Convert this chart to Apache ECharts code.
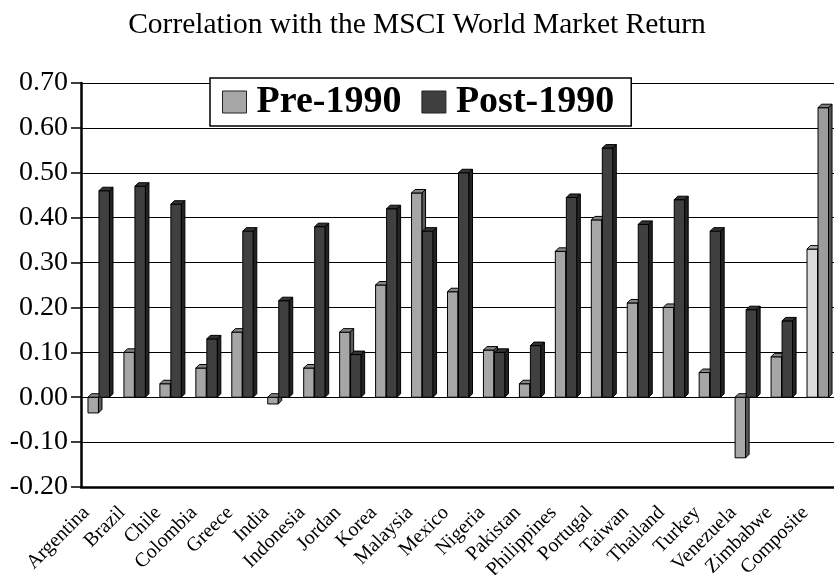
<!DOCTYPE html>
<html>
<head>
<meta charset="utf-8">
<script src="https://cdn.jsdelivr.net/npm/echarts@6/dist/echarts.min.js"></script>
<style>
  html, body { margin: 0; padding: 0; background: #fff; }
  #chart { width: 834px; height: 575px; }
</style>
</head>
<body>
<div id="chart"></div>
<script>
// correlation of each market with the MSCI world return
var countries = ['Argentina', 'Brazil', 'Chile', 'Colombia', 'Greece', 'India', 'Indonesia',
  'Jordan', 'Korea', 'Malaysia', 'Mexico', 'Nigeria', 'Pakistan', 'Philippines', 'Portugal',
  'Taiwan', 'Thailand', 'Turkey', 'Venezuela', 'Zimbabwe', 'Composite'];
var pre1990 = [-0.035, 0.10, 0.03, 0.065, 0.145, -0.015, 0.065, 0.145, 0.25, 0.455, 0.235,
  0.105, 0.03, 0.325, 0.395, 0.21, 0.20, 0.055, -0.135, 0.09, 0.33];
var post1990 = [0.46, 0.47, 0.43, 0.13, 0.37, 0.215, 0.38, 0.095, 0.42, 0.37, 0.50,
  0.10, 0.115, 0.445, 0.555, 0.385, 0.44, 0.37, 0.195, 0.17, 0.645];
var yTicks = [-0.2, 0.7, 0.1]; // min, max, step

var serif = 'Liberation Serif';
var barW = 10.5;
var depth = 3.5;

// echarts.color.lift only lightens, so darken by hand
function darken(color, k) {
  var c = echarts.color.parse(color);
  return 'rgb(' + Math.round(c[0] * k) + ',' + Math.round(c[1] * k) + ',' + Math.round(c[2] * k) + ')';
}

// draws a bar with a little 3d top and side face, like the old excel charts
function bar3d(offset) {
  return function (params, api) {
    var base = api.coord([api.value(0), 0]);
    var end = api.coord([api.value(0), api.value(1)]);
    var x = base[0] + offset;
    var yTop = Math.min(base[1], end[1]);
    var yBot = Math.max(base[1], end[1]);
    var color = api.visual('color');
    var stroke = { stroke: '#000', lineWidth: 1 };
    return {
      type: 'group',
      children: [
        {
          type: 'rect',
          shape: { x: x, y: yTop, width: barW, height: yBot - yTop },
          style: Object.assign({ fill: color }, stroke)
        },
        {
          type: 'polygon',
          shape: { points: [[x, yTop], [x + depth, yTop - depth], [x + barW + depth, yTop - depth], [x + barW, yTop]] },
          style: Object.assign({ fill: darken(color, 0.8) }, stroke)
        },
        {
          type: 'polygon',
          shape: { points: [[x + barW, yTop], [x + barW + depth, yTop - depth], [x + barW + depth, yBot - depth], [x + barW, yBot]] },
          style: Object.assign({ fill: darken(color, 0.55) }, stroke)
        }
      ]
    };
  };
}

var last = countries.length - 1;

var chart = echarts.init(document.getElementById('chart'));
chart.setOption({
  animation: false,
  backgroundColor: '#fff',
  title: {
    text: 'Correlation with the MSCI World Market Return',
    left: 'center',
    top: 5,
    textStyle: { fontFamily: serif, fontSize: 29.5, fontWeight: 'normal', color: '#000' }
  },
  legend: {
    left: 210,
    top: 78,
    padding: [5, 17, 5, 12],
    itemWidth: 24,
    itemHeight: 22,
    itemGap: 20,
    backgroundColor: '#fff',
    borderColor: '#000',
    borderWidth: 1.5,
    icon: 'rect',
    itemStyle: { borderColor: '#222', borderWidth: 1 },
    textStyle: { fontFamily: serif, fontSize: 38, fontWeight: 'bold', color: '#000', padding: [0, 0, 0, 5] },
    data: ['Pre-1990', 'Post-1990']
  },
  grid: {
    left: 81,
    top: 83,
    width: 755,
    height: 404,
    outerBoundsMode: 'none'
  },
  xAxis: {
    type: 'category',
    data: countries,
    axisLine: { onZero: false, lineStyle: { color: '#000', width: 2.5 } },
    axisTick: { interval: 0, length: 8, lineStyle: { color: '#000', width: 1.5 } },
    axisLabel: {
      interval: 0,
      rotate: 45,
      margin: 10,
      padding: [0, 18, 0, 0],
      fontFamily: serif,
      fontSize: 20,
      color: '#000'
    }
  },
  yAxis: {
    type: 'value',
    min: yTicks[0],
    max: yTicks[1],
    interval: yTicks[2],
    axisLine: { show: true, lineStyle: { color: '#000', width: 2.5 } },
    axisTick: { show: true, length: 10, lineStyle: { color: '#000', width: 1.5 } },
    splitLine: { lineStyle: { color: '#000', width: 1.2 } },
    axisLabel: {
      margin: 13,
      fontFamily: serif,
      fontSize: 28,
      color: '#000',
      formatter: function (v) { return v.toFixed(2); }
    }
  },
  series: [
    {
      name: 'Pre-1990',
      type: 'custom',
      z: 2,
      itemStyle: { color: '#a6a6a6' },
      renderItem: bar3d(-11),
      encode: { x: 0, y: 1 },
      data: pre1990.map(function (v, i) {
        return i === last ? { value: [i, v], itemStyle: { color: '#dcdcdc' } } : [i, v];
      })
    },
    {
      name: 'Post-1990',
      type: 'custom',
      z: 3,
      itemStyle: { color: '#404040' },
      renderItem: bar3d(0),
      encode: { x: 0, y: 1 },
      data: post1990.map(function (v, i) {
        return i === last ? { value: [i, v], itemStyle: { color: '#9c9c9c' } } : [i, v];
      })
    }
  ]
});
</script>
</body>
</html>
